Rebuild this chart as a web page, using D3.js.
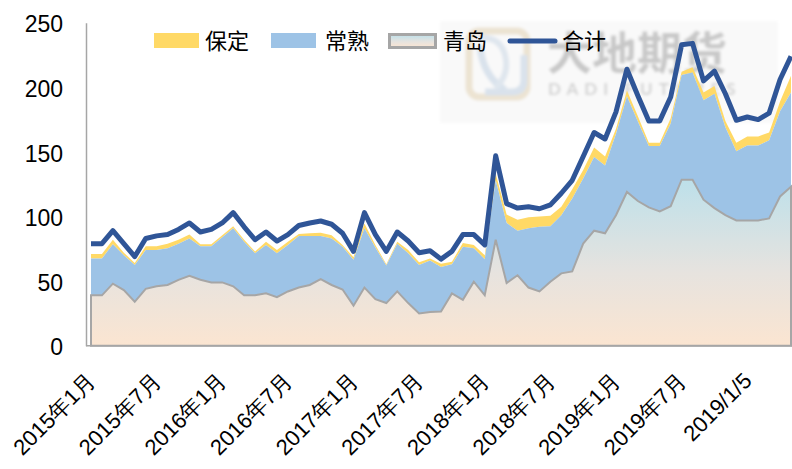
<!DOCTYPE html>
<html>
<head>
<meta charset="utf-8">
<script src="https://cdn.jsdelivr.net/npm/d3@7"></script>
<style>
  html, body { margin: 0; padding: 0; background: #fff; }
  svg { display: block; font-family: Lato, "Noto Sans CJK SC", sans-serif; }
</style>
</head>
<body>
<svg width="792" height="469"></svg>
<script>
const width  = 792,
      height = 469;

// monthly, 2015-01 .. 2020-05
const months = d3.timeMonth.range(new Date(2015, 0, 1), new Date(2020, 5, 1)).map(d3.timeFormat("%Y-%m"));

const qingdao = [39, 39, 48, 43, 34, 44, 46, 47, 51, 54,
                 51, 49, 49, 46, 39, 39, 40.5, 37.5, 42, 45,
                 47, 51.5, 47, 43.5, 31, 45, 36, 33, 42, 33,
                 25, 26, 26.5, 40.5, 35.5, 49.5, 39, 82, 48.5, 54.5,
                 45, 42, 49.5, 56, 57.5, 79, 89, 87, 101, 119,
                 112, 107, 104, 108, 128.5, 128.5, 113, 106.5, 101, 97,
                 97, 97, 98.5, 115.5, 123];

const changshu = [28.5, 28.5, 30.5, 27, 28.5, 30, 28, 28.5, 28, 29,
                  26, 28, 35, 45, 41.5, 32.5, 37.5, 34, 36, 40,
                  38, 33.5, 36, 33, 35.5, 46, 40, 29, 37, 38.5,
                  37.5, 40, 34.5, 22.5, 41, 26, 28, 46, 46.5, 34.5,
                  46, 50, 43, 45, 56.5, 50.5, 57, 52.5, 63, 74,
                  61.5, 47.5, 50.5, 64, 81, 83, 77, 88.5, 68, 53.5,
                  58, 58, 60.5, 66, 73];

const baoding = [3.5, 3.5, 3.5, 2, 1.5, 3, 3, 3.5, 3, 3,
                 1.5, 1.5, 1.5, 1.5, 1.5, 1.5, 2.5, 2.5, 2.5, 1.5,
                 2, 2.5, 2.5, 1.5, 2, 3.5, 2, 1, 1.5, 2.5,
                 2, 1.5, 2.5, 2, 3, 2.5, 3, 5, 6.5, 8.5,
                 8.5, 8, 8, 6.5, 7, 6.5, 7.5, 7, 4, 4.5,
                 4, 2.5, 2.5, 4, 2.5, 4, 6, 6, 5, 6.5,
                 7, 7, 6, 7.5, 13];

const total = [79, 79, 89, 79, 69, 83, 85, 86, 90, 95,
               88, 90, 95, 103, 92, 82, 88, 81, 86, 93,
               95, 96.5, 94, 87, 73, 103, 86, 73, 88, 81,
               72, 73.5, 67, 73, 86, 86, 78, 147, 110, 106.5,
               107.5, 106, 109, 118, 128, 146.5, 165, 160, 181, 214,
               193.5, 174, 174, 192.5, 233, 234, 205, 212.5, 195, 174.5,
               177, 175, 180, 206, 224];

const tickLabels = ["2015年1月", "2015年7月", "2016年1月", "2016年7月", "2017年1月", "2017年7月",
                    "2018年1月", "2018年7月", "2019年1月", "2019年7月", "2019/1/5"];
const yTicks = [0, 50, 100, 150, 200, 250];
const seriesNames = ["保定", "常熟", "青岛", "合计"];

const rows = months.map((m, i) => ({month: m, qingdao: qingdao[i], changshu: changshu[i], baoding: baoding[i], total: total[i]}));

const svg = d3.select("svg");

const x = d3.scalePoint().domain(months).range([91, 791]);
const y = d3.scaleLinear().domain([0, 250]).range([345.7, 22.7]);

const defs = svg.append("defs");
const grad = defs.append("linearGradient").attr("id", "qdGrad").attr("x1", 0).attr("y1", 0).attr("x2", 0).attr("y2", 1);
grad.append("stop").attr("offset", "0%").attr("stop-color", "#bde0ea");
grad.append("stop").attr("offset", "55%").attr("stop-color", "#e6e3df");
grad.append("stop").attr("offset", "100%").attr("stop-color", "#fbe5d1");

defs.append("filter").attr("id", "blur").append("feGaussianBlur").attr("stdDeviation", 1.4);

// watermark
const wm = svg.append("g").attr("class", "watermark").attr("filter", "url(#blur)");
wm.append("rect").attr("x", 440).attr("y", 21).attr("width", 338).attr("height", 102).attr("fill", "#f9f9f9");
wm.append("rect").attr("x", 469).attr("y", 31).attr("width", 58).attr("height", 66).attr("rx", 10)
  .attr("fill", "none").attr("stroke", "#ece3d2").attr("stroke-width", 7);
wm.append("path").attr("d", "M485,92 L512,92 Q524,92 524,80 L524,55 M480,45 Q482,75 505,90")
  .attr("fill", "none").attr("stroke", "#d9e2ec").attr("stroke-width", 7);
wm.append("path").attr("d", "M478,38 Q500,36 505,55 Q510,75 495,88")
  .attr("fill", "none").attr("stroke", "#dfe6ee").attr("stroke-width", 6);
wm.append("text").attr("x", 547).attr("y", 70).attr("font-size", 45).attr("font-weight", 700)
  .attr("fill", "#c8c8c8").attr("font-family", "Noto Sans CJK SC").text("大地期货");
wm.append("text").attr("x", 548).attr("y", 95).attr("font-size", 17).attr("font-weight", 700)
  .attr("letter-spacing", 6).attr("fill", "#d2d2d2").text("DADI FUTURES");

// stacked areas
const stack = d3.stack().keys(["qingdao", "changshu", "baoding"]);
const layers = stack(rows);
const area = d3.area()
  .x(d => x(d.data.month))
  .y0(d => y(d[0]))
  .y1(d => y(d[1]));

const fills = {qingdao: "url(#qdGrad)", changshu: "#9dc3e6", baoding: "#ffd966"};

svg.append("g").attr("class", "areas")
  .selectAll("path")
  .data(layers.slice().reverse())
  .join("path")
  .attr("d", area)
  .attr("fill", d => fills[d.key])
  .attr("stroke", d => d.key === "qingdao" ? "#a6a6a6" : "none")
  .attr("stroke-width", 2);

// axes
const xAxis = d3.axisBottom(x)
  .tickValues(months.filter((m, i) => i % 6 === 0))
  .tickFormat((m, i) => tickLabels[i])
  .tickSize(0);

svg.append("g")
  .attr("class", "axis x-axis")
  .attr("transform", `translate(0, ${y(0)})`)
  .call(xAxis)
  .call(g => g.select(".domain").remove())
  .selectAll("text")
  .attr("font-size", 22)
  .attr("fill", "#000")
  .attr("text-anchor", "end")
  .attr("dominant-baseline", "central")
  .attr("dy", null)
  .attr("y", 0)
  .attr("transform", "translate(0, 31) rotate(-45)");

svg.append("line")
  .attr("x1", 86).attr("x2", 792)
  .attr("y1", y(0)).attr("y2", y(0))
  .attr("stroke", "#a6a6a6").attr("stroke-width", 1.5);

const yAxis = d3.axisLeft(y).tickValues(yTicks).tickSize(0).tickSizeOuter(0).tickPadding(23);
svg.append("g")
  .attr("class", "axis y-axis")
  .attr("transform", "translate(86, 0)")
  .call(yAxis)
  .call(g => g.select(".domain").attr("stroke", "#a6a6a6").attr("stroke-width", 1.5))
  .selectAll("text")
  .attr("font-size", 23)
  .attr("dy", "0.4em")
  .attr("fill", "#000");

// total line
const line = d3.line()
  .x(d => x(d.month))
  .y(d => y(d.total));

svg.append("path")
  .datum(rows)
  .attr("d", line)
  .attr("fill", "none")
  .attr("stroke", "#2f5597")
  .attr("stroke-width", 5)
  .attr("stroke-linejoin", "round");

// legend
const legendX = [154, 271, 388, 508];
const textX   = [205, 325, 443, 562];
const legend = svg.append("g").attr("class", "legend");

seriesNames.forEach((name, i) => {
  if (i < 2) {
    legend.append("rect").attr("x", legendX[i]).attr("y", 33).attr("width", 45).attr("height", 15)
      .attr("fill", i === 0 ? fills.baoding : fills.changshu);
  } else if (i === 2) {
    legend.append("rect").attr("x", legendX[i] + 1.5).attr("y", 34.5).attr("width", 46).attr("height", 13)
      .attr("fill", "url(#qdGrad)").attr("stroke", "#a6a6a6").attr("stroke-width", 3);
  } else {
    legend.append("line").attr("x1", legendX[i] + 2).attr("x2", legendX[i] + 47).attr("y1", 41).attr("y2", 41)
      .attr("stroke", "#2f5597").attr("stroke-width", 5).attr("stroke-linecap", "round");
  }
  legend.append("text").attr("x", textX[i]).attr("y", 40)
    .attr("dominant-baseline", "central")
    .attr("font-size", 22).attr("fill", "#000")
    .text(name);
});
</script>
</body>
</html>
